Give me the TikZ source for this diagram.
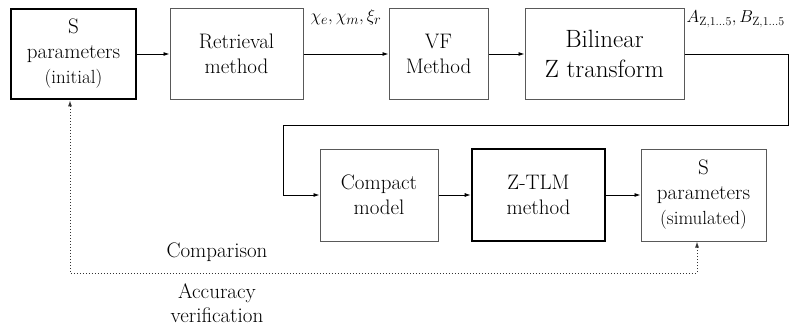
\documentclass[tikz,border=0pt]{standalone}
\usetikzlibrary{calc}
\usetikzlibrary{arrows.meta}
\tikzset{
  block/.style={draw=black!65,line width=1pt,align=center,inner sep=1pt,
    minimum height=90pt,font=\fontsize{21}{25}\selectfont},
  keyblock/.style={block,draw=black,line width=2.6pt},
  flow/.style={draw=black,line width=0.9pt,-{Latex[length=6pt,width=4pt]}},
  check/.style={draw=black!80,line width=1pt,dotted,{Latex[length=6pt,width=4pt]}-{Latex[length=6pt,width=4pt]}},
  remark/.style={font=\fontsize{21}{24}\selectfont,align=center}
}
\newcommand{\smallline}[1]{{\fontsize{19}{22}\selectfont #1}}
\begin{document}
\begin{tikzpicture}[x=1pt,y=-1pt]
    \useasboundingbox (0,0) rectangle (791,329);
    \node[keyblock,minimum width=125pt] (Sin) at (73.5, 54) {S\\parameters\\\smallline{(initial)}};
    \node[block,minimum width=133pt] (Ret) at (236.5, 54) {Retrieval\\method};
    \node[block,minimum width=99pt]  (VF)  at (438.5, 54) {VF\\Method};
    \node[block,minimum width=159pt,font=\fontsize{25}{30}\selectfont] (Bil) at (604.5, 54) {Bilinear\\Z transform};
    \node[block,minimum width=118pt,minimum height=92pt] (Cmp) at (379, 195) {Compact\\model};
    \node[keyblock,minimum width=133pt,minimum height=92pt] (Ztlm) at (538.5, 195) {Z-TLM\\method};
    \node[block,minimum width=125pt,minimum height=92pt] (Ssim) at (703.5, 195) {S\\parameters\\\smallline{(simulated)}};
    % coefficient labels
    \node[font=\fontsize{19}{21}\selectfont,inner sep=0pt,anchor=base] (chi)
      at ($(Ret.east)!0.5!(VF.west)+(0,-32)$) {$\chi_e,\chi_m,\xi_r$};
    \node[font=\fontsize{17}{19}\selectfont,inner sep=0pt,anchor=base west] (coef)
      at ($(Bil.east)+(2,-31)$) {$A_{\mathrm{Z},1\ldots5},B_{\mathrm{Z},1\ldots5}$};
    % corners of the return path
    \coordinate (turnR) at (788,125);
    \coordinate (turnL) at (283,125);
    \coordinate (cmpL) at (70,273);
    \coordinate (cmpR) at (697,273);
    \draw[flow] (Sin) -- (Ret);
    \draw[flow] (Ret) -- (VF);
    \draw[flow] (VF) -- (Bil);
    \draw[flow] (Bil.east) -| (turnR) -- (turnL) |- (Cmp.west);
    \draw[flow] (Cmp) -- (Ztlm);
    \draw[flow] (Ztlm) -- (Ssim);
    \draw[check] (cmpL |- Sin.south) -- (cmpL) -- (cmpR) -- (cmpR |- Ssim.south);
    \node[remark] (comp) at (217, 252) {Comparison};
    \node[remark] (acc) at (217, 303) {Accuracy\\verification};
  \end{tikzpicture}
\end{document}
